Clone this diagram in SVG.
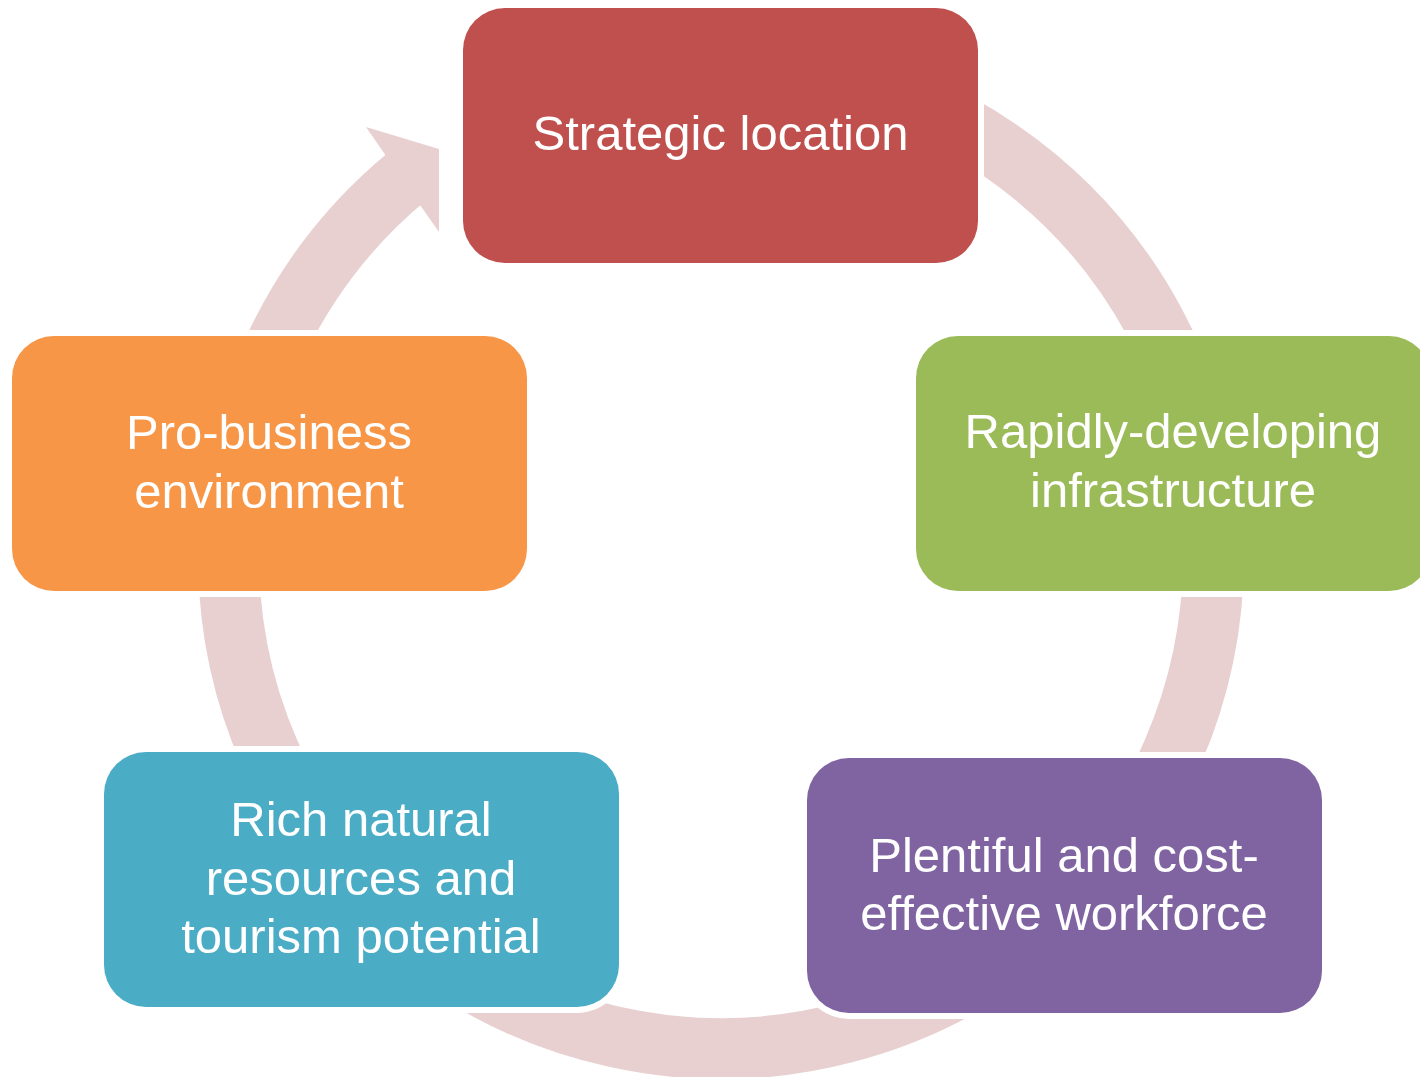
<svg xmlns="http://www.w3.org/2000/svg" width="1420" height="1077" viewBox="0 0 1420 1077">
<style>
.ring{fill:none;stroke:#E8D0D1;stroke-width:61;stroke-linecap:butt}
.head{fill:#E8D0D1}
.halo{fill:#FFFFFF}
.lbl{font-family:"Liberation Sans",Arial,sans-serif;font-size:49px;fill:#FFFFFF;text-anchor:middle}
</style>
<rect width="1420" height="1077" fill="#FFFFFF"/>
<g id="connectors">
<path class="ring" d="M 806.5 71 A 492.5 492.5 0 1 1 407.7 176"/>
<polygon class="head" points="384,153 366,127 439,149 439,232 420,205"/>
</g>
<g id="node-strategic">
<rect class="halo" x="457" y="2" width="527" height="267" rx="48"/>
<rect x="463" y="8" width="515" height="255" rx="42" fill="#C0504D"/>
<text class="lbl" x="720.5" y="150">Strategic location</text>
</g>
<g id="node-infrastructure">
<rect class="halo" x="910" y="330" width="527" height="267" rx="48"/>
<rect x="916" y="336" width="515" height="255" rx="42" fill="#9BBB59"/>
<text class="lbl" x="1173" y="448">Rapidly-developing</text>
<text class="lbl" x="1173" y="507">infrastructure</text>
</g>
<g id="node-workforce">
<rect class="halo" x="801" y="752" width="527" height="267" rx="48"/>
<rect x="807" y="758" width="515" height="255" rx="42" fill="#8064A2"/>
<text class="lbl" x="1064" y="872">Plentiful and cost-</text>
<text class="lbl" x="1064" y="930">effective workforce</text>
</g>
<g id="node-resources">
<rect class="halo" x="98" y="746" width="527" height="267" rx="48"/>
<rect x="104" y="752" width="515" height="255" rx="42" fill="#4BACC6"/>
<text class="lbl" x="361" y="836">Rich natural</text>
<text class="lbl" x="361" y="895">resources and</text>
<text class="lbl" x="361" y="953">tourism potential</text>
</g>
<g id="node-probusiness">
<rect class="halo" x="6" y="330" width="527" height="267" rx="48"/>
<rect x="12" y="336" width="515" height="255" rx="42" fill="#F79646"/>
<text class="lbl" x="269" y="449">Pro-business</text>
<text class="lbl" x="269" y="508">environment</text>
</g>
</svg>
